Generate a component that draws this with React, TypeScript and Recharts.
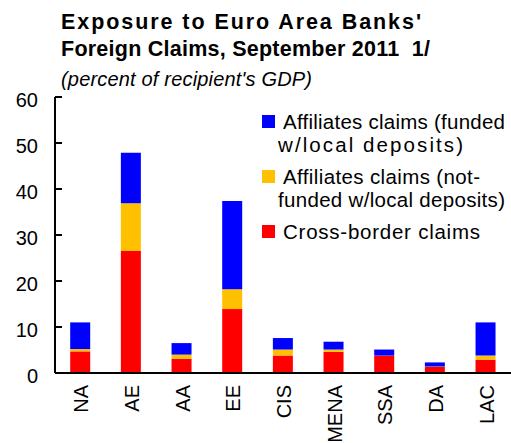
import React from 'react';
import { BarChart, Bar, XAxis, YAxis } from 'recharts';

const categories = ['NA', 'AE', 'AA', 'EE', 'CIS', 'MENA', 'SSA', 'DA', 'LAC'];
const crossBorder = [4.7, 26.5, 3.1, 13.9, 3.8, 4.6, 3.8, 1.3, 2.9];
const notFunded = [0.5, 10.4, 0.9, 4.3, 1.3, 0.5, 0.0, 0.1, 0.9];
const funded = [5.8, 11.0, 2.5, 19.2, 2.5, 1.7, 1.3, 0.9, 7.2];
const yTicks = [0, 10, 20, 30, 40, 50, 60];

const titleLines = ["Exposure to Euro Area Banks'", 'Foreign Claims, September 2011  1/'];
const titleWidths = [360, 369];
const subtitle = "(percent of recipient's GDP)";

const legendItems = [
  { color: '#0000FF', lines: ['Affiliates claims (funded', 'w/local deposits)'], widths: [222, 185] },
  { color: '#FFC000', lines: ['Affiliates claims (not-', 'funded w/local deposits)'], widths: [197, 227] },
  { color: '#FF0000', lines: ['Cross-border claims'], widths: [197] },
];

const data = categories.map((c, i) => ({
  name: c,
  cross: crossBorder[i],
  notFunded: notFunded[i],
  funded: funded[i],
}));

const FONT = '"Liberation Sans", Arial, sans-serif';

const YTick = (props: any) => {
  const { x, y, payload } = props;
  return (
    <g>
      <line x1={x} x2={x + 7} y1={y} y2={y} stroke="#000" strokeWidth={2} />
      <text x={x - 17} y={y + 3} textAnchor="end" dominantBaseline="central" fontSize={20} fontFamily={FONT} fill="#000">
        {payload.value}
      </text>
    </g>
  );
};

const XTick = (props: any) => {
  const { x, y, payload } = props;
  return (
    <text
      transform={`translate(${x + 1},${y + 12}) rotate(-90)`}
      textAnchor="end"
      dominantBaseline="central"
      fontSize={20}
      fontFamily={FONT}
      fill="#000"
    >
      {payload.value}
    </text>
  );
};

export default function App() {
  return (
    <div style={{ position: 'absolute', left: 0, top: 0, width: 511, height: 443, background: '#fff' }}>
      <BarChart
        width={511}
        height={443}
        data={data}
        margin={{ top: 97, right: 0, bottom: 0, left: 0 }}
        barCategoryGap="30%"
      >
        <XAxis
          dataKey="name"
          height={70}
          tickLine={false}
          tickSize={0}
          tickMargin={0}
          axisLine={{ stroke: '#000', strokeWidth: 2 }}
          tick={<XTick />}
          interval={0}
        />
        <YAxis
          width={55}
          domain={[0, 60]}
          ticks={yTicks}
          tickLine={false}
          tickSize={0}
          tickMargin={0}
          axisLine={{ stroke: '#000', strokeWidth: 2 }}
          tick={<YTick />}
          interval={0}
        />
        <Bar dataKey="cross" stackId="a" fill="#FF0000" isAnimationActive={false} />
        <Bar dataKey="notFunded" stackId="a" fill="#FFC000" isAnimationActive={false} />
        <Bar dataKey="funded" stackId="a" fill="#0000FF" isAnimationActive={false} />
      </BarChart>
      <svg
        width={511}
        height={443}
        style={{ position: 'absolute', left: 0, top: 0, pointerEvents: 'none' }}
      >
        {titleLines.map((t, i) => (
          <text
            key={i}
            x={61}
            y={29 + i * 27}
            fontSize={21.5}
            fontWeight="bold"
            fontFamily={FONT}
            textLength={titleWidths[i]}
            lengthAdjust="spacing"
            style={{ whiteSpace: 'pre' }}
            fill="#000"
          >
            {t}
          </text>
        ))}
        <text
          x={61}
          y={86}
          fontSize={20}
          fontStyle="italic"
          fontFamily={FONT}
          textLength={251}
          lengthAdjust="spacing"
          fill="#000"
        >
          {subtitle}
        </text>
        {legendItems.map((item, i) => {
          const baseY = [129, 184, 239][i];
          return (
            <g key={i}>
              <rect x={262} y={baseY - 14} width={13} height={13} fill={item.color} />
              {item.lines.map((l, j) => (
                <text
                  key={j}
                  x={j === 0 ? 283 : 278}
                  y={baseY + j * 22.5}
                  fontSize={20.5}
                  fontFamily={FONT}
                  textLength={item.widths[j]}
                  lengthAdjust="spacing"
                  fill="#000"
                >
                  {l}
                </text>
              ))}
            </g>
          );
        })}
      </svg>
    </div>
  );
}
